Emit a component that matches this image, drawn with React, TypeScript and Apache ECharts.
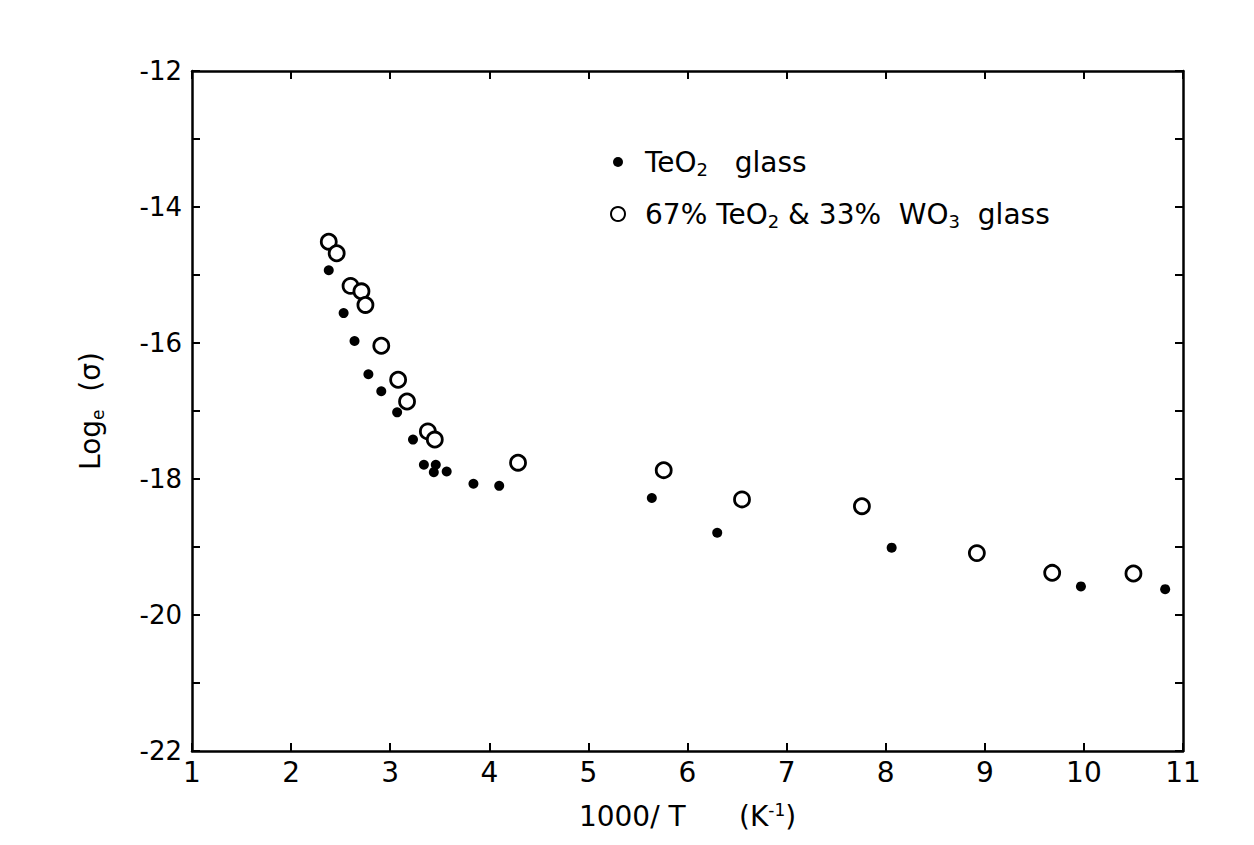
import React, { useEffect, useRef } from "react";
import * as echarts from "echarts";

const teo2X = [2.38, 2.53, 2.64, 2.78, 2.91, 3.07, 3.23, 3.34, 3.44, 3.46, 3.57, 3.84, 4.1, 5.64, 6.3, 8.06, 9.97, 10.82];
const teo2Y = [-14.93, -15.56, -15.97, -16.46, -16.71, -17.02, -17.42, -17.79, -17.9, -17.79, -17.89, -18.07, -18.1, -18.28, -18.79, -19.01, -19.58, -19.62];
const mixX = [2.38, 2.46, 2.6, 2.71, 2.75, 2.91, 3.08, 3.17, 3.38, 3.45, 4.29, 5.76, 6.55, 7.76, 8.92, 9.68, 10.5];
const mixY = [-14.51, -14.68, -15.16, -15.24, -15.44, -16.04, -16.54, -16.86, -17.3, -17.42, -17.76, -17.87, -18.3, -18.4, -19.09, -19.38, -19.39];

const xMin = 1, xMax = 11, xStep = 1;
const yMin = -22, yMax = -12, yStep = 1, yLabelStep = 2;

const seriesNames = ["TeO2 glass", "67% TeO2 & 33% WO3 glass"];
const FONT = "'DejaVu Sans', sans-serif";

export default function App() {
  const ref = useRef<HTMLDivElement>(null);
  useEffect(() => {
    if (!ref.current) return;
    const chart = echarts.init(ref.current, null, { renderer: "svg" });
    const axisLine = { show: true, onZero: false, lineStyle: { color: "#000", width: 2.5 } };
    const tick = { show: true, inside: true, length: 8, lineStyle: { color: "#000", width: 2 } };
    const rich = {
      a: { fontSize: 28, fontFamily: FONT, color: "#000" },
      s: { fontSize: 18, fontFamily: FONT, color: "#000", padding: [14, 0, 0, 0] },
    };
    chart.setOption({
      animation: false,
      backgroundColor: "#fff",
      grid: { left: 192, right: 71, top: 71, bottom: 94, containLabel: false },
      legend: {
        orient: "vertical",
        left: 605,
        top: 143,
        itemGap: 22,
        itemWidth: 14,
        itemHeight: 14,
        selectedMode: false,
        data: [
          { name: seriesNames[0], icon: "path://M0 0M14 14M2 7a5 5 0 1 0 10 0a5 5 0 1 0 -10 0Z" },
          { name: seriesNames[1], icon: "circle" },
        ],
        formatter: (n: string) =>
          n === seriesNames[0]
            ? "{a|TeO}{s|2}{a|   glass}"
            : "{a|67% TeO}{s|2}{a| & 33%  WO}{s|3}{a|  glass}",
        textStyle: { rich, fontSize: 28, padding: [0, 0, 0, 15] },
      },
      xAxis: [
        {
          type: "value",
          min: xMin,
          max: xMax,
          interval: xStep,
          axisLine,
          axisTick: tick,
          splitLine: { show: false },
          axisLabel: { color: "#000", fontSize: 28, fontFamily: FONT, margin: 7 },
          name: "{a|1000/ T      (K}{u|-1}{a|)}",
          nameLocation: "middle",
          nameGap: 50,
          nameTextStyle: {
            rich: {
              a: { fontSize: 28, fontFamily: FONT, color: "#000" },
              u: { fontSize: 17, fontFamily: FONT, color: "#000", padding: [0, 0, 14, 0] },
            },
          },
        },
        {
          type: "value",
          position: "top",
          min: xMin,
          max: xMax,
          interval: xStep,
          axisLine,
          axisTick: tick,
          splitLine: { show: false },
          axisLabel: { show: false },
        },
      ],
      yAxis: [
        {
          type: "value",
          min: yMin,
          max: yMax,
          interval: yStep,
          axisLine,
          axisTick: tick,
          splitLine: { show: false },
          axisLabel: {
            color: "#000",
            fontSize: 26,
            fontFamily: FONT,
            margin: 10,
            formatter: (v: number) => (Math.round(v) % yLabelStep === 0 ? String(v) : ""),
          },
          name: "{a|Log}{e|e}{a|  (σ)}",
          nameLocation: "middle",
          nameRotate: 90,
          nameGap: 86,
          nameTextStyle: {
            rich: {
              a: { fontSize: 28, fontFamily: FONT, color: "#000" },
              e: { fontSize: 17, fontFamily: FONT, color: "#000", padding: [14, 0, 0, 0] },
            },
          },
        },
        {
          type: "value",
          position: "right",
          min: yMin,
          max: yMax,
          interval: yStep,
          axisLine,
          axisTick: tick,
          splitLine: { show: false },
          axisLabel: { show: false },
        },
      ],
      series: [
        {
          name: seriesNames[0],
          type: "scatter",
          symbol: "circle",
          symbolSize: 10,
          itemStyle: { color: "#000", opacity: 1 },
          data: teo2X.map((x, i) => [x, teo2Y[i]]),
        },
        {
          name: seriesNames[1],
          type: "scatter",
          symbol: "circle",
          symbolSize: 15,
          itemStyle: { color: "#fff", borderColor: "#000", borderWidth: 2.8, opacity: 1 },
          data: mixX.map((x, i) => [x, mixY[i]]),
        },
      ],
    });
    return () => chart.dispose();
  }, []);
  return (
    <div
      ref={ref}
      style={{ position: "fixed", left: 0, top: 0, width: 1254, height: 845, background: "#fff" }}
    />
  );
}
